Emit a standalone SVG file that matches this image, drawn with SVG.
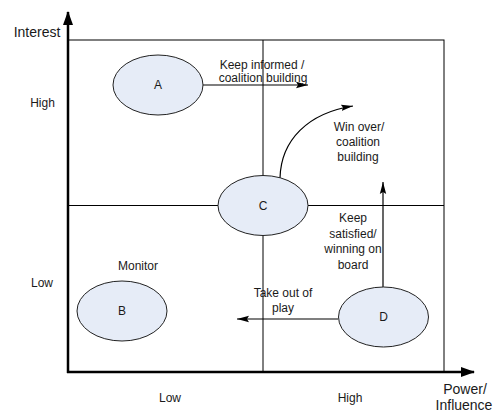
<svg xmlns="http://www.w3.org/2000/svg" width="498" height="414" viewBox="0 0 498 414">
<style>
text{font-family:"Liberation Sans",Arial,sans-serif;fill:#1a1a1a;text-anchor:middle}
.ax{font-size:14px}
.lb{font-size:12px}
.node ellipse{fill:#E6ECF7;stroke:#222;stroke-width:1}
.grid{stroke:#000;stroke-width:1;fill:none}
.axis{stroke:#000;stroke-width:2.5;fill:none}
.conn{stroke:#000;stroke-width:1.2;fill:none}
</style>
<defs>
<marker id="ah" viewBox="0 0 12 8" refX="12" refY="4" markerWidth="12" markerHeight="8" markerUnits="userSpaceOnUse" orient="auto">
<path d="M0,0.8 L12,4 L0,7.2 L2,4 Z" fill="#000"/>
</marker>
<marker id="axh" viewBox="0 0 14 10" refX="13" refY="5" markerWidth="14" markerHeight="10" markerUnits="userSpaceOnUse" orient="auto">
<path d="M0,0 L14,5 L0,10 Z" fill="#000"/>
</marker>
</defs>
<g id="grid">
<rect class="grid" x="68" y="40" width="376" height="332"/>
<line class="grid" x1="263" y1="40" x2="263" y2="372"/>
<line class="grid" x1="68" y1="205.5" x2="444" y2="205.5"/>
</g>
<g id="axes">
<line class="axis" x1="68" y1="373" x2="68" y2="12" marker-end="url(#axh)"/>
<line class="axis" x1="67" y1="372" x2="474" y2="372" marker-end="url(#axh)"/>
<text class="ax" x="37" y="37">Interest</text>
<text class="ax" x="465" y="394">Power/</text>
<text class="ax" x="464" y="410">Influence</text>
<text class="lb" x="42.5" y="107">High</text>
<text class="lb" x="42" y="287">Low</text>
<text class="lb" x="170" y="402">Low</text>
<text class="lb" x="350" y="402">High</text>
</g>
<g id="connectors">
<line class="conn" x1="203" y1="85" x2="308" y2="85" marker-end="url(#ah)"/>
<path class="conn" d="M280,178 C281,140 308,113 353,106" marker-end="url(#ah)"/>
<line class="conn" x1="383" y1="287" x2="383" y2="182" marker-end="url(#ah)"/>
<line class="conn" x1="338" y1="319" x2="237" y2="319" marker-end="url(#ah)"/>
</g>
<g id="labels">
<text class="lb" x="262" y="69">Keep informed /</text>
<text class="lb" x="263" y="82">coalition building</text>
<text class="lb" x="359" y="131">Win over/</text>
<text class="lb" x="358" y="146">coalition</text>
<text class="lb" x="358" y="161">building</text>
<text class="lb" x="353" y="222">Keep</text>
<text class="lb" x="353" y="238">satisfied/</text>
<text class="lb" x="353" y="253">winning on</text>
<text class="lb" x="353" y="269">board</text>
<text class="lb" x="283" y="297">Take out of</text>
<text class="lb" x="283" y="312">play</text>
<text class="lb" x="138" y="270">Monitor</text>
</g>
<g id="A" class="node"><ellipse cx="158" cy="85" rx="45" ry="30"/><text class="lb" x="158" y="89">A</text></g>
<g id="C" class="node"><ellipse cx="263" cy="205.5" rx="45" ry="30"/><text class="lb" x="263" y="210">C</text></g>
<g id="B" class="node"><ellipse cx="122" cy="311" rx="45" ry="30"/><text class="lb" x="122" y="315">B</text></g>
<g id="D" class="node"><ellipse cx="383.5" cy="317" rx="45" ry="30"/><text class="lb" x="383.5" y="321">D</text></g>
</svg>
